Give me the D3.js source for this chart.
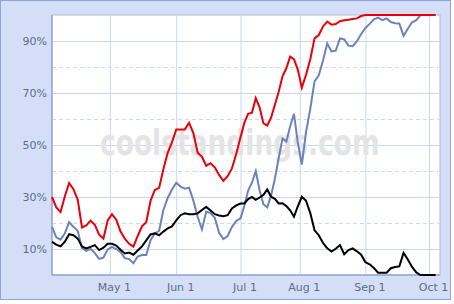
<!DOCTYPE html>
<html>
<head>
<meta charset="utf-8">
<script src="https://cdn.jsdelivr.net/npm/d3@7"></script>
<style>
  body { margin: 0; background: #fff; }
  svg { display: block; }
  .tick text { font-family: "DejaVu Sans", Verdana, sans-serif; font-size: 11px; fill: #5d6c8c; }
</style>
</head>
<body>
<div id="chart"></div>
<script>
// every second day of the season (All-Star week squeezed on the axis)
const dates = [
  '04-04','04-06','04-08','04-10','04-12','04-14','04-16','04-18','04-20','04-22','04-24','04-26','04-28','04-30',
  '05-02','05-04','05-06','05-08','05-10','05-12','05-14','05-16','05-18','05-20','05-22','05-24','05-26','05-28','05-30',
  '06-01','06-03','06-05','06-07','06-09','06-11','06-13','06-15','06-17','06-19','06-21','06-23','06-25','06-27','06-29',
  '07-01','07-03','07-05','07-07','07-09','07-11','07-13','07-15','07-17','07-19','07-21','07-23','07-25','07-27','07-29','07-31',
  '08-02','08-04','08-06','08-08','08-10','08-12','08-14','08-16','08-18','08-20','08-22','08-24','08-26','08-28','08-30',
  '09-01','09-03','09-05','09-07','09-09','09-11','09-13','09-15','09-17','09-19','09-21','09-23','09-25','09-27','09-29',
  '10-01','10-03','10-04'
];

// playoff odds (red)
const playoffs = [
  30, 26, 24.2, 30.3, 35.4, 33, 29, 18.3, 19.1, 20.9, 19.3, 15.5, 14, 21,
  23.4, 21.3, 16.7, 14, 12, 10.9, 15, 18.7, 20.3, 28.5, 32.7, 33.5, 40.7, 47, 51,
  56, 56, 56, 58.5, 54.6, 47, 45.5, 42, 43, 41.4, 38.5, 36.2, 38, 41, 46.5,
  53, 58.5, 62, 62.4, 68, 64.5, 58.3, 57.5, 60.5, 65.5, 70.5, 76.4, 79.5, 84, 83, 79,
  72, 77, 83, 91, 92.3, 95.6, 97.5, 96.3, 96.5, 97.6, 98, 98.2, 98.5, 98.7, 99.6,
  100, 100, 100, 100, 100, 100, 100, 100, 100, 100, 100, 100, 100, 100, 100,
  100, 100, 100
];

// division odds (blue)
const division = [
  18.5, 14.5, 13.6, 16, 20.3, 18.5, 17, 10.3, 9.3, 10.1, 8.4, 6.2, 6.7, 9.8,
  10.8, 10, 8.8, 6.5, 6.1, 4.5, 7.1, 7.7, 7.7, 13.4, 16, 17, 25, 29.6, 32.9,
  35.5, 34, 33.2, 33.6, 28.6, 22.4, 17.5, 24.4, 23.8, 22, 16.2, 13.8, 15, 18.5, 20.8,
  21.8, 26.5, 32.5, 35.5, 40, 32.5, 27.2, 26, 30.5, 37, 45, 52.5, 51.3, 57.2, 62, 51,
  42.5, 55, 64, 74.5, 76.8, 82.5, 89, 86, 86.3, 91, 90.6, 88.2, 88, 89.9, 92.7,
  95, 96.6, 98.3, 99, 98, 98.7, 97.3, 96.8, 96.7, 92, 94.7, 97.2, 98, 100, 100,
  100, 100, 100
];

// wild card odds (black)
const wildcard = [
  12.8, 11.7, 11, 12.8, 15.7, 15.3, 14, 11, 10.2, 10.8, 11.5, 9.6, 10.5, 12,
  12, 11.3, 9.7, 8.3, 8.6, 7.8, 9.4, 11, 13.3, 15.6, 16, 15.3, 16.7, 17.9, 18.7,
  21, 23, 23.7, 23.4, 23.4, 23.7, 25, 26.2, 24.8, 23.4, 22.9, 22.6, 23, 25.6, 26.8,
  27.5, 27.5, 29.2, 30, 28.9, 29.8, 30.8, 32.9, 30.1, 29.3, 27.5, 27.6, 26.5, 24.9, 22.4, 26.4,
  30.1, 28.5, 23.8, 17.2, 15.3, 12.3, 10.3, 9, 10.1, 11.5, 8, 9.6, 10.2, 9.1, 7.8,
  4.9, 4.1, 2.7, 0.9, 0.9, 0.9, 2.6, 3.1, 3.3, 8.5, 6, 3.1, 1, 0, 0,
  0, 0, 0
];

const yMajor = [10, 30, 50, 70, 90];
const yMinor = [20, 40, 60, 80];
const monthTicks = ['05-01', '06-01', '07-01', '08-01', '09-01', '10-01'];

const width = 454;
const height = 304;
const margin = {left: 52, top: 15, right: 14, bottom: 29};
const plotW = width - margin.left - margin.right;
const plotH = height - margin.top - margin.bottom;

const parse = s => d3.timeParse('%Y-%m-%d')('2008-' + s);

// axis runs piecewise so July (All-Star break) comes out shorter
const x = d3.scaleTime()
    .domain(['04-04', '07-01', '08-01', '10-01', '10-06'].map(parse))
    .range([0, 188.5, 247.7, 377, plotW]);

const y = d3.scaleLinear()
    .domain([0, 100])
    .range([plotH, 0]);

const svg = d3.select('#chart').append('svg')
    .attr('width', width)
    .attr('height', height);

// outer frame
svg.append('rect')
    .attr('x', 0.5).attr('y', 0.5)
    .attr('width', 450).attr('height', 299)
    .attr('fill', '#d4dff7')
    .attr('stroke', '#8ea3d8');

const g = svg.append('g')
    .attr('transform', 'translate(' + margin.left + ',' + margin.top + ')');

g.append('rect')
    .attr('width', plotW).attr('height', plotH)
    .attr('fill', '#fff')
    .attr('stroke', '#a9b9e2');

// dashed minor grid
g.append('g')
    .call(d3.axisLeft(y).tickValues(yMinor).tickSize(-plotW).tickFormat(''))
    .call(a => a.select('.domain').remove())
    .call(a => a.selectAll('line').attr('stroke', '#cfd9ef').attr('stroke-dasharray', '4,3'));

// y axis + solid grid
g.append('g')
    .call(d3.axisLeft(y).tickValues(yMajor).tickSize(-plotW).tickPadding(5).tickFormat(d => d + '%'))
    .call(a => a.select('.domain').remove())
    .call(a => a.selectAll('line').attr('stroke', '#cbd6ee'));

// x axis + month grid
g.append('g')
    .attr('transform', 'translate(0,' + plotH + ')')
    .call(d3.axisBottom(x).tickValues(monthTicks.map(parse)).tickSize(-plotH).tickPadding(8)
        .tickFormat(d3.timeFormat('%b %-d')))
    .call(a => a.select('.domain').remove())
    .call(a => a.selectAll('line').attr('stroke', '#cbd6ee'))
    .call(a => a.selectAll('text').attr('dx', 4));

// watermark
g.append('g')
    .attr('transform', 'translate(48,140) scale(1,1.35)')
    .append('text')
    .attr('font-family', '"DejaVu Sans", sans-serif')
    .attr('font-weight', 'bold')
    .attr('font-size', 26.5)
    .attr('fill', '#e4e4e4')
    .text('coolstandings.com');

// left and bottom axis lines
g.append('line').attr('x1', 0).attr('x2', 0).attr('y1', 0).attr('y2', plotH)
    .attr('stroke', '#7d93cb');
g.append('line').attr('x1', 0).attr('x2', plotW).attr('y1', plotH).attr('y2', plotH)
    .attr('stroke', '#7d93cb');

const line = values => d3.line()
    .x((d, i) => x(parse(dates[i])))
    .y(d => y(d))(values);

const series = [
    {values: division, color: '#6a83bd'},
    {values: wildcard, color: '#000000'},
    {values: playoffs, color: '#e8000a'}
];

g.selectAll('.series')
    .data(series)
    .enter()
    .append('path')
    .attr('class', 'series')
    .attr('d', d => line(d.values))
    .attr('fill', 'none')
    .attr('stroke', d => d.color)
    .attr('stroke-width', 2);
</script>
</body>
</html>
